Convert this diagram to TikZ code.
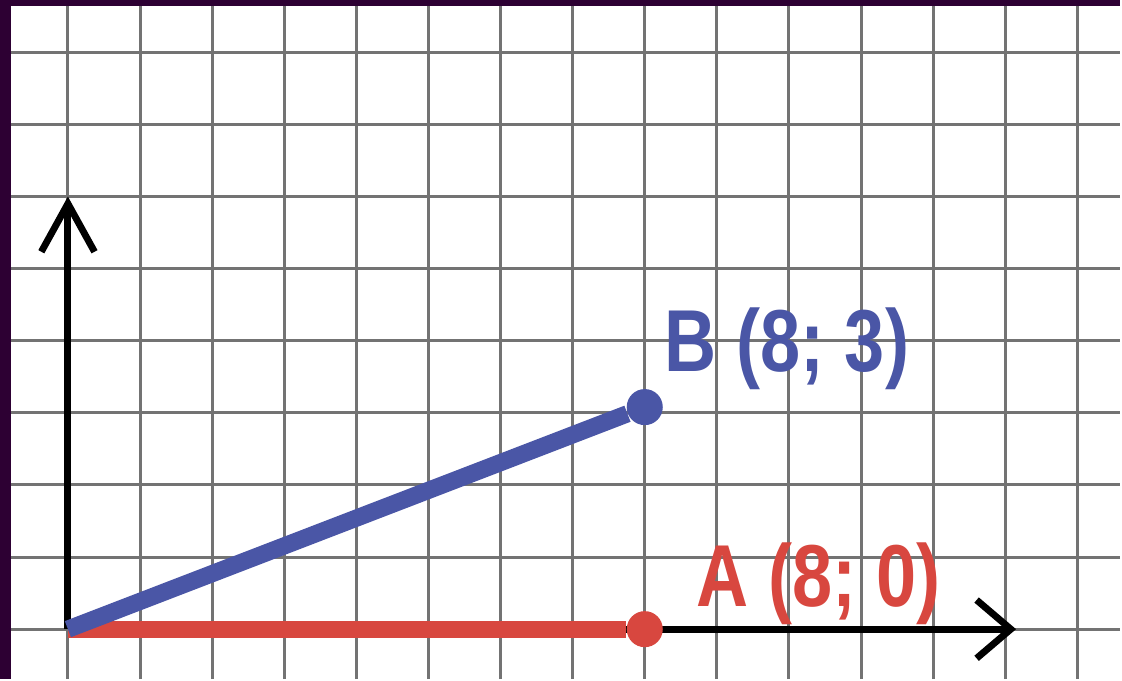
\documentclass[tikz,border=0pt]{standalone}
\usepackage{fontspec}
\newfontfamily\coordfont[FakeStretch=0.82]{Liberation Sans}
\usetikzlibrary{arrows.meta}

\definecolor{framepurple}{HTML}{2D0033}
\definecolor{pointblue}{HTML}{4A56A6}
\definecolor{pointred}{HTML}{D8473F}

\begin{document}
\begin{tikzpicture}[every node/.style={font=\coordfont\bfseries\fontsize{34.7}{40}\selectfont},
    gridline/.style={line width=1.2pt, black!55},
    axis/.style={line width=2.7pt, black},
    segment/.style={line width=6.8pt},
    dot/.style={circle, inner sep=0pt, minimum size=0.5cm}]
    % paper and frame
    \fill[framepurple] (-0.942,-0.693) rectangle (14.598,8.726);
    \fill[white] (-0.790,-0.693) rectangle (14.598,8.643);
    \draw[gridline] (-0.790,-0.693) grid (14.598,8.643);

    \coordinate (O) at (0,0);
    \coordinate (xend) at (13.15,0);
    \coordinate (yend) at (0,6);

    \draw[axis, -{Straight Barb[length=13.5pt,width=23pt]}] (O) -- (xend);
    \draw[axis, -{Straight Barb[length=19pt,width=21pt]}] (O) -- (yend);

    \node[dot, fill=pointred] (A) at (8,0) {};
    \node[dot, fill=pointblue] (B) at (8,3.08) {};

    \draw[segment, pointred] (O) -- (A);
    \draw[segment, pointblue] (O) -- (B);

    \node[text=pointred, anchor=base west, inner sep=0pt] (labelA) at (8.71,0.32) {A (8; 0)};
    \node[text=pointblue, anchor=base west, inner sep=0pt] (labelB) at (8.27,3.57) {B (8; 3)};
\end{tikzpicture}
\end{document}
